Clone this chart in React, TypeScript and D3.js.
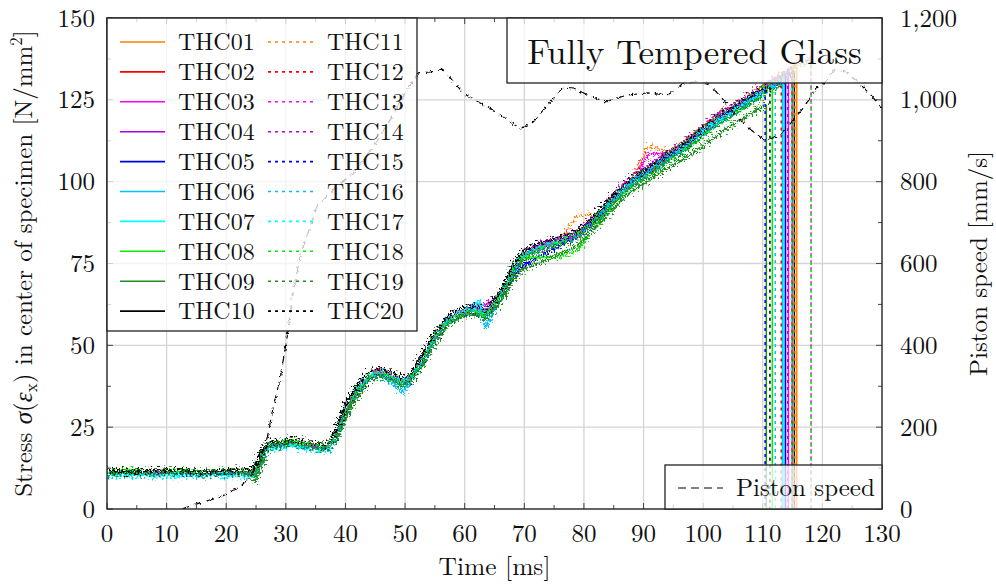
import React from "react";
import * as d3 from "d3";

// ---------- data ----------
const timeGrid = [0, 4, 8, 12, 16, 20, 24, 25, 26, 27, 29, 31, 33, 35, 37, 38.5, 40, 42, 44, 46, 48, 49.5, 51, 53, 55, 57, 59, 61, 62.5, 63.5, 65, 67, 68.5, 70, 73, 76, 79, 82, 85, 88, 91, 94, 97, 100, 103, 106, 109, 112, 115, 118];

const seriesNames = ["THC01", "THC02", "THC03", "THC04", "THC05", "THC06", "THC07", "THC08", "THC09", "THC10", "THC11", "THC12", "THC13", "THC14", "THC15", "THC16", "THC17", "THC18", "THC19", "THC20"];

const thc01 = [11.5, 11, 11.5, 11, 11.5, 11, 11.5, 11, 16.5, 20, 19.5, 21, 20, 19.5, 19, 22.5, 29.5, 36.5, 41, 42.5, 40.5, 39, 40.5, 46, 52.5, 57.5, 60, 61, 60.5, 59.5, 63, 68.5, 74.5, 78, 80.5, 82, 84.5, 90, 96, 101, 104.5, 108.5, 112, 116.5, 120.5, 124, 127.5, 131, 134.5];
const thc02 = [11, 11.5, 11, 11, 11.5, 11, 11, 11, 16, 19.5, 20, 20.5, 19.5, 19, 18.5, 22, 29, 36, 41, 43, 41, 39, 40.5, 46, 52.5, 57.5, 60, 61, 60.5, 59.5, 63, 68.5, 74.5, 78, 80.5, 82, 84, 89, 95, 100, 103.5, 107.5, 111, 115.5, 119.5, 123, 126.5, 130];
const thc03 = [10.5, 11, 10.5, 11, 10.5, 11, 10.5, 10.5, 15.5, 19, 19.5, 20.5, 19.5, 19, 18.5, 22.5, 30, 36.5, 41, 42, 40.5, 39, 40.5, 46, 52.5, 57.5, 60, 62, 63, 62, 64, 69, 75, 78.5, 81, 82.5, 85, 90, 96, 101, 108.5, 108.5, 112, 116.5, 120.5, 124, 127.5, 131];
const thc04 = [11, 11, 11.5, 11, 11, 11.5, 11, 11, 16, 19.5, 19.5, 20.5, 19.5, 19, 18.5, 22.5, 29.5, 36.5, 41, 42, 40.5, 39, 40.5, 46, 52.5, 57.5, 60, 61, 61, 60, 63, 68.5, 74.5, 78.5, 81.5, 83, 85, 90, 96, 101.5, 105, 109, 112.5, 117, 121.5, 124.5, 128, 131.5];
const thc05 = [10.5, 10.5, 11, 10.5, 10.5, 11, 10.5, 10.5, 15.5, 19, 19, 20, 19, 18.5, 18, 22, 29, 35.5, 40, 41, 39.5, 38, 39.5, 45, 51.5, 56.5, 59, 60, 59.5, 58.5, 62, 67, 72, 74.5, 77.5, 80.5, 83, 88, 94, 99, 102.5, 106.5, 110, 114.5, 118.5, 122, 125.5, 129];
const thc06 = [10, 10.5, 10, 10.5, 10, 10.5, 10, 10, 15, 18.5, 19, 19.5, 18.5, 18, 17.5, 21.5, 28.5, 35, 39.5, 40.5, 38, 35.5, 38.5, 45, 51.5, 56.5, 59, 61.5, 62, 55.5, 60.5, 67.5, 74, 77.5, 80, 81.5, 83.5, 89, 95, 100, 103.5, 107.5, 111, 115.5, 119.5, 123, 126, 129.5];
const thc07 = [10.5, 10, 10.5, 10, 10.5, 10, 10.5, 10, 15, 18.5, 18.5, 19.5, 18.5, 18, 17.5, 22, 29.5, 36, 40.5, 41.5, 39.5, 37.5, 39.5, 45.5, 52, 57, 59.5, 62, 63.5, 58, 62, 68, 74, 77.5, 80.5, 82, 84, 89, 94.5, 99.5, 103, 107, 110.5, 115, 119, 122.5, 126, 129.5];
const thc08 = [11.5, 12, 11.5, 12, 11.5, 12, 11.5, 10.5, 15.5, 20, 20.5, 21, 20, 19.5, 19, 21.5, 28.5, 35.5, 40.5, 41.5, 40, 38.5, 40, 45.5, 51.5, 56.5, 59, 60, 59.5, 58.5, 62, 67.5, 73.5, 76.5, 77, 77, 79, 86.5, 93.5, 98.5, 102, 106, 109.5, 114, 118, 121.5, 125];
const thc09 = [11, 11.5, 11, 11.5, 11, 11.5, 11, 8.5, 13.5, 18.5, 20, 20.5, 19.5, 19, 18.5, 21, 27.5, 34, 39.5, 41, 39.5, 38, 39, 44, 50.5, 56, 58.5, 59.5, 59, 58, 61, 66, 71, 73.5, 75.5, 78, 80.5, 86, 92, 97, 100.5, 104, 107, 111, 115, 118.5, 122];
const thc10 = [11.5, 11, 11.5, 11.5, 11, 11.5, 12, 14, 18.5, 20, 19.5, 20.5, 19.5, 19, 18.5, 25, 32, 38, 41, 41.5, 40, 39, 41, 47.5, 53.5, 58, 60, 60.5, 60, 59.5, 63.5, 70, 76, 78.5, 80, 81.5, 83.5, 89, 95, 100, 103.5, 107.5, 111, 115.5, 119.5, 123, 126.5, 130, 133];
const thc11 = [11, 11.5, 11, 11, 11.5, 11, 11, 11, 16, 19.5, 19.5, 20.5, 19.5, 19, 18.5, 22.5, 29.5, 36, 41, 42, 40.5, 39, 40.5, 46, 52, 57, 59.5, 60.5, 60.5, 59.5, 63, 68.5, 74.5, 78, 80.5, 82.5, 89.5, 90, 96, 101, 111, 109, 112.5, 117, 121, 124.5, 128, 131.5, 135];
const thc12 = [11, 11, 10.5, 11, 11, 10.5, 11, 11, 16, 19.5, 19.5, 20.5, 19.5, 19, 18.5, 22.5, 29.5, 36, 40.5, 41.5, 40, 38.5, 40, 45.5, 52, 57, 59.5, 60.5, 60, 59, 62.5, 68, 74, 77.5, 80, 81.5, 83.5, 89, 95, 100, 103.5, 107.5, 111, 115.5, 119.5, 123, 126.5, 130];
const thc13 = [11, 10.5, 11, 11, 10.5, 11, 11, 11, 16, 19.5, 19.5, 20.5, 19.5, 19, 18.5, 22.5, 29.5, 36, 41, 42, 40.5, 39, 40.5, 46, 52.5, 57.5, 60, 61, 60.5, 59.5, 63, 68.5, 74.5, 78, 80.5, 82, 84, 90, 96.5, 101.5, 105, 109, 112.5, 117, 121, 124.5, 128, 131.5, 135, 138];
const thc14 = [11, 11, 11, 11.5, 11, 11, 11, 11, 16, 19.5, 19.5, 20.5, 19.5, 19, 18.5, 22.5, 29.5, 36, 40.5, 41.5, 40, 38.5, 40, 45.5, 52, 57, 59.5, 60.5, 60, 59, 62.5, 68, 74, 77.5, 80, 81.5, 84, 89.5, 95.5, 100.5, 104, 108, 111.5, 116, 120, 123.5, 127, 130.5];
const thc15 = [10.5, 11, 10.5, 10.5, 11, 10.5, 10.5, 10.5, 15.5, 19, 19, 20, 19, 18.5, 18, 22, 29, 35.5, 40, 41, 39.5, 38, 39.5, 45, 51.5, 56.5, 59, 60, 59.5, 58.5, 62, 67.5, 73.5, 77, 79.5, 81, 83, 89, 95, 100, 103.5, 107.5, 111, 115.5, 119.5, 123, 126.5];
const thc16 = [10.5, 10, 10.5, 10.5, 10, 10.5, 10.5, 10.5, 15.5, 19, 19, 20, 19, 18.5, 18, 22.5, 29.5, 36, 40.5, 41.5, 40, 38.5, 40, 45.5, 52, 57, 59.5, 60.5, 60, 59, 62.5, 68, 74, 77.5, 80, 81.5, 83, 88.5, 94.5, 99.5, 103, 107, 110.5, 115, 119, 122.5, 126, 129.5];
const thc17 = [10, 10.5, 10, 10, 10.5, 10, 10, 10, 15, 18.5, 18.5, 19.5, 18.5, 18, 17.5, 22, 29.5, 36.5, 41, 42, 40.5, 39, 40.5, 46, 52.5, 57.5, 60, 61, 60.5, 59.5, 63, 68.5, 74.5, 78, 80.5, 82, 84, 89.5, 95.5, 100.5, 104, 108, 111.5, 115.5, 119.5, 123, 126.5, 130];
const thc18 = [11.5, 11.5, 12, 11.5, 11.5, 12, 11.5, 11.5, 16.5, 20, 20, 21, 20, 19.5, 19, 22.5, 29.5, 36, 40.5, 41.5, 40, 38.5, 40, 45.5, 52, 57, 59.5, 60.5, 60, 59, 62.5, 68, 74, 77.5, 80, 81.5, 84, 89.5, 96, 101, 104.5, 108.5, 112, 116.5, 120.5, 124, 127.5, 131, 134.5, 137.5];
const thc19 = [10.5, 11, 10.5, 11, 10.5, 11, 10.5, 10, 15, 19, 19, 20, 19, 18.5, 18, 22, 29, 35, 39.5, 40.5, 39, 37.5, 39, 44.5, 51, 56, 58.5, 59.5, 59, 58, 61.5, 67, 73, 76.5, 79, 80.5, 82.5, 87.5, 93.5, 98.5, 102, 106, 109.5, 114, 118, 121.5, 125, 128.5];
const thc20 = [12, 11.5, 12, 12, 11.5, 12, 12, 12.5, 17.5, 20.5, 20.5, 21.5, 20.5, 20, 19.5, 24.5, 31.5, 38, 42, 43, 41.5, 40, 41.5, 47.5, 54, 58.5, 61, 62, 61.5, 60.5, 64, 70, 76, 79, 81.5, 83, 85, 90, 96, 101, 104.5, 108.5, 112, 116.5, 120.5, 124, 127.5];

const stressValues = [thc01, thc02, thc03, thc04, thc05, thc06, thc07, thc08, thc09, thc10, thc11, thc12, thc13, thc14, thc15, thc16, thc17, thc18, thc19, thc20];

// failure (fracture) time [ms] and stress at fracture [N/mm^2]
const failTime = [115.7, 114.9, 114.3, 113.8, 113.8, 113.3, 113.5, 111.6, 110.6, 115.3, 115.4, 113.1, 118.1, 114.2, 110.4, 112.1, 114.8, 118.1, 115.0, 111.2];
const failStress = [135.5, 133.5, 134.5, 133, 131.5, 131, 131.5, 128.5, 123.5, 133.5, 136, 131.5, 138, 133.5, 128, 129.5, 133, 137.5, 131.5, 129];

// piston speed (right axis)
const pistonTime = [12.5, 15.6, 19.0, 22.3, 24.0, 25.7, 26.9, 27.9, 29.1, 30.2, 31.2, 32.4, 35.2, 38.0, 41.3, 44.7, 47.5, 50.3, 52.2, 54.2, 56.3, 59.8, 63.2, 66.0, 69.4, 71.5, 73.9, 76.6, 78.3, 80.6, 83.6, 87.3, 90.7, 94.1, 96.7, 99.1, 100.8, 103.0, 105.8, 108.0, 110.2, 112.5, 114.7, 116.9, 119.2, 120.6, 121.9, 124.0, 126.5, 128.1, 130];
const pistonSpeed = [0, 15, 29, 54, 78, 120, 176, 249, 323, 420, 528, 617, 739, 780, 821, 886, 951, 1024, 1066, 1068, 1075, 1016, 987, 963, 929, 946, 987, 1031, 1029, 1012, 995, 1012, 1017, 1012, 1041, 1044, 1041, 1007, 956, 927, 902, 909, 943, 982, 1031, 1044, 1073, 1068, 1036, 1012, 980];

const xTicks = [0, 10, 20, 30, 40, 50, 60, 70, 80, 90, 100, 110, 120, 130];
const yTicks = [0, 25, 50, 75, 100, 125, 150];
const y2Ticks = [0, 200, 400, 600, 800, 1000, 1200];

const colors = ["#ff8000", "#ff0000", "#ff00ff", "#b000e0", "#0000e6", "#00bfff", "#00ffff", "#00f000", "#1f8f1f", "#000000"];

// ---------- layout ----------
const W = 996, H = 585;
const L = 107, R = 882, T = 18, B = 509;
const FONT = "Latin Modern Roman";

export default function App() {
  const x = d3.scaleLinear().domain([0, 130]).range([L, R]);
  const y = d3.scaleLinear().domain([0, 150]).range([B, T]);
  const y2 = d3.scaleLinear().domain([0, 1200]).range([B, T]);
  const line = d3.line<[number, number]>().x(d => x(d[0])).y(d => y(d[1]));
  const pLine = d3.line<[number, number]>().x(d => x(d[0])).y(d => y2(d[1]));

  const curves = stressValues.map((vals, i) => {
    const pts: [number, number][] = vals.map((v, j) => [timeGrid[j], v]);
    pts.push([failTime[i], failStress[i]]);
    return pts;
  });
  const pistonPts: [number, number][] = pistonTime.map((t, i) => [t, pistonSpeed[i]]);

  const xMinor = d3.range(5, 130, 10);
  const yMinor = d3.range(12.5, 150, 25);
  const fmt = d3.format(",");
  const dotted = "3,4";
  const txt = { fontFamily: FONT, fill: "#111" } as React.CSSProperties;

  return (
    <svg width={W} height={H} style={{ position: "absolute", left: 0, top: 0, background: "#fff" }}>
      <defs>
        <clipPath id="plotClip"><rect x={L} y={T} width={R - L} height={B - T} /></clipPath>
        <filter id="jitter" filterUnits="userSpaceOnUse" x={L - 10} y={T - 10} width={R - L + 20} height={B - T + 20}>
          <feTurbulence type="fractalNoise" baseFrequency="0.5" numOctaves={1} seed={3} result="n" />
          <feDisplacementMap in="SourceGraphic" in2="n" scale={15} xChannelSelector="R" yChannelSelector="G" />
        </filter>
        <filter id="jitterP" filterUnits="userSpaceOnUse" x={L - 10} y={T - 10} width={R - L + 20} height={B - T + 20}>
          <feTurbulence type="fractalNoise" baseFrequency="0.5" numOctaves={1} seed={7} result="n" />
          <feDisplacementMap in="SourceGraphic" in2="n" scale={4} xChannelSelector="R" yChannelSelector="G" />
        </filter>
      </defs>
      {/* grid */}
      <g stroke="#d4d4d4" strokeWidth={1.3}>
        {xTicks.map(t => <line key={"gx" + t} x1={x(t)} x2={x(t)} y1={T} y2={B} />)}
        {yTicks.map(t => <line key={"gy" + t} x1={L} x2={R} y1={y(t)} y2={y(t)} />)}
      </g>
      {/* ticks */}
      <g stroke="#333" strokeWidth={0.9}>
        {xTicks.map(t => <g key={"tx" + t}><line x1={x(t)} x2={x(t)} y1={B} y2={B - 6} /><line x1={x(t)} x2={x(t)} y1={T} y2={T + 6} /></g>)}
        {xMinor.map(t => <g key={"mx" + t}><line x1={x(t)} x2={x(t)} y1={B} y2={B - 4} /><line x1={x(t)} x2={x(t)} y1={T} y2={T + 4} /></g>)}
        {yTicks.map(t => <g key={"ty" + t}><line x1={L} x2={L + 6} y1={y(t)} y2={y(t)} /><line x1={R} x2={R - 6} y1={y(t)} y2={y(t)} /></g>)}
        {yMinor.map(t => <g key={"my" + t}><line x1={L} x2={L + 4} y1={y(t)} y2={y(t)} /><line x1={R} x2={R - 4} y1={y(t)} y2={y(t)} /></g>)}
      </g>
      {/* stress series */}
      <g clipPath="url(#plotClip)" fill="none">
        <g filter="url(#jitter)">
          {curves.map((pts, i) => (
            <path key={seriesNames[i]} d={line(pts) || ""} stroke={colors[i % 10]} strokeWidth={i < 10 ? 2.4 : 2.6}
              strokeDasharray={i < 10 ? undefined : "3,2"} strokeLinejoin="round" />
          ))}
        </g>
        {failTime.map((t, i) => (
          <line key={"f" + i} x1={x(t)} x2={x(t)} y1={y(failStress[i])} y2={y(0)} stroke={colors[i % 10]}
            strokeWidth={1.5} strokeDasharray={i < 10 ? undefined : dotted} />
        ))}
        <g filter="url(#jitterP)">
          <path d={pLine(pistonPts) || ""} stroke="#000" strokeWidth={1.2} strokeDasharray="8,5" />
        </g>
      </g>
      {/* frame */}
      <rect x={L} y={T} width={R - L} height={B - T} fill="none" stroke="#222" strokeWidth={1.3} />
      {/* tick labels */}
      <g fontSize={25} fontFamily={FONT}>
        {xTicks.map(t => <text key={"lx" + t} x={x(t)} y={542} textAnchor="middle" style={txt}>{t}</text>)}
        {yTicks.map(t => <text key={"ly" + t} x={95} y={y(t)} dy="0.34em" textAnchor="end" style={txt}>{t}</text>)}
        {y2Ticks.map(t => <text key={"ly2" + t} x={900} y={y2(t)} dy="0.34em" textAnchor="start" style={txt}>{fmt(t)}</text>)}
      </g>
      {/* axis labels */}
      <text x={(L + R) / 2} y={575} fontSize={25.5} textAnchor="middle" style={txt}>Time [ms]</text>
      <text transform={`translate(32,${(T + B) / 2}) rotate(-90)`} fontSize={25} textAnchor="middle" style={txt}>
        Stress <tspan fontStyle="italic">σ</tspan>(<tspan fontStyle="italic">ε</tspan><tspan fontSize={17} dy={5}>x</tspan><tspan dy={-5}>) in center of specimen [N/mm</tspan><tspan fontSize={17} dy={-10}>2</tspan><tspan dy={10}>]</tspan>
      </text>
      <text transform={`translate(987,${(T + B) / 2}) rotate(-90)`} fontSize={25} textAnchor="middle" style={txt}>Piston speed [mm/s]</text>
      {/* main legend */}
      <g>
        <rect x={L} y={T} width={310} height={313} fill="#fff" fillOpacity={0.75} stroke="#222" strokeWidth={1.3} />
        {seriesNames.map((n, i) => {
          const col = i < 10 ? 0 : 1;
          const row = i % 10;
          const cy = 42 + row * 29.9;
          const sx = col === 0 ? 120 : 268;
          const tx = col === 0 ? 178 : 327;
          return (
            <g key={"lg" + n}>
              <line x1={sx} x2={sx + 45} y1={cy} y2={cy} stroke={colors[row]} strokeWidth={1.6} strokeDasharray={col === 0 ? undefined : dotted} />
              <text x={tx} y={cy + 8.3} fontSize={24} style={txt}>{n}</text>
            </g>
          );
        })}
      </g>
      {/* title box */}
      <g>
        <rect x={507} y={T} width={R - 507} height={65} fill="#fff" fillOpacity={0.75} stroke="#222" strokeWidth={1.3} />
        <text x={(507 + R) / 2} y={64} fontSize={35} textAnchor="middle" style={txt}>Fully Tempered Glass</text>
      </g>
      {/* piston legend */}
      <g>
        <rect x={665} y={465} width={R - 665} height={B - 465} fill="#fff" fillOpacity={0.75} stroke="#222" strokeWidth={1.3} />
        <line x1={678} x2={723} y1={488} y2={488} stroke="#000" strokeWidth={1.2} strokeDasharray="8,5" />
        <text x={736} y={496} fontSize={25} style={txt}>Piston speed</text>
      </g>
    </svg>
  );
}
